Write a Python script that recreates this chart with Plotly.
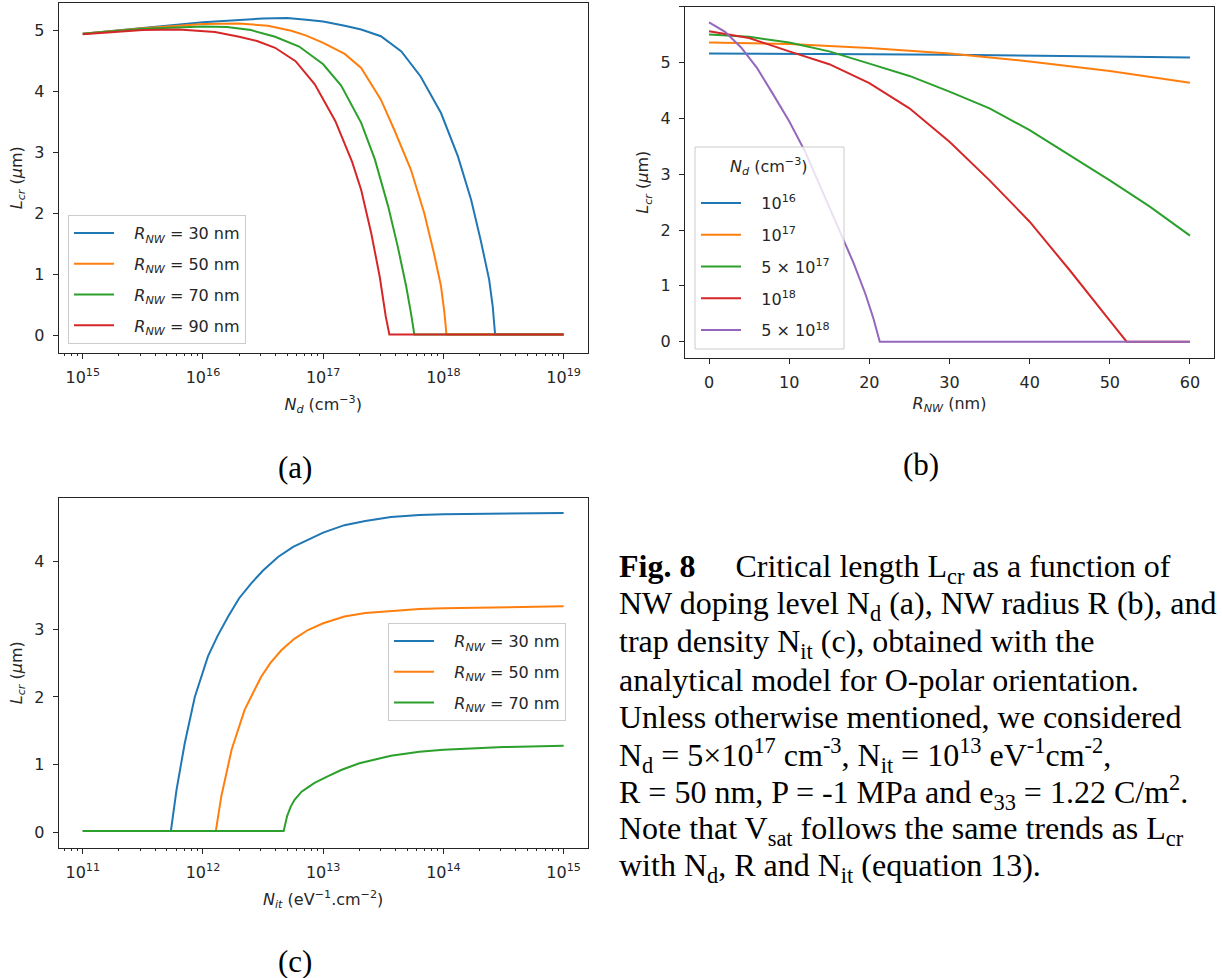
import plotly.graph_objects as go

# ---------------- Panel (a): L_cr vs N_d ----------------
nd_r30 = [1e15, 3.16e15, 1e16, 3.16e16, 5.01e16, 7.24e16, 1e17, 1.51e17, 2.07e17, 3.02e17,
          4.47e17, 6.46e17, 9.55e17, 1.32e18, 1.70e18, 2.04e18, 2.40e18, 2.57e18, 2.69e18, 1e19]
lcr_r30 = [4.95, 5.05, 5.14, 5.20, 5.21, 5.18, 5.15, 5.08, 5.02, 4.91,
           4.66, 4.25, 3.65, 2.94, 2.23, 1.57, 0.92, 0.48, 0.02, 0.02]

nd_r50 = [1e15, 3.16e15, 1e16, 2.0e16, 3.47e16, 5.43e16, 7.24e16, 1e17, 1.51e17, 2.07e17,
          3.02e17, 3.89e17, 5.37e17, 6.92e17, 8.32e17, 9.55e17, 1.02e18, 1.06e18, 1e19]
lcr_r50 = [4.95, 5.04, 5.11, 5.12, 5.08, 5.00, 4.92, 4.80, 4.62, 4.39,
           3.87, 3.38, 2.72, 2.01, 1.36, 0.81, 0.37, 0.02, 0.02]

nd_r70 = [1e15, 3.16e15, 1e16, 1.58e16, 2.51e16, 3.98e16, 6.31e16, 1e17, 1.41e17, 2.07e17,
          2.69e17, 3.47e17, 4.17e17, 4.90e17, 5.37e17, 5.73e17, 1e19]
lcr_r70 = [4.95, 5.03, 5.07, 5.06, 5.01, 4.90, 4.74, 4.45, 4.10, 3.49,
           2.89, 2.12, 1.46, 0.81, 0.37, 0.02, 0.02]

nd_r90 = [1e15, 3.16e15, 6.31e15, 1.26e16, 2.0e16, 2.82e16, 3.98e16, 5.89e16, 8.51e16, 1.26e17,
          1.74e17, 2.07e17, 2.51e17, 2.95e17, 3.31e17, 3.55e17, 1e19]
lcr_r90 = [4.94, 5.01, 5.02, 4.98, 4.90, 4.83, 4.72, 4.50, 4.12, 3.52,
           2.85, 2.39, 1.68, 0.97, 0.32, 0.02, 0.02]

labels_a = ["<i>R<sub>NW</sub></i> = 30 nm", "<i>R<sub>NW</sub></i> = 50 nm",
            "<i>R<sub>NW</sub></i> = 70 nm", "<i>R<sub>NW</sub></i> = 90 nm"]
ticks_a = [1e15, 1e16, 1e17, 1e18, 1e19]
ticktext_a = ["10<sup>15</sup>", "10<sup>16</sup>", "10<sup>17</sup>", "10<sup>18</sup>", "10<sup>19</sup>"]

# ---------------- Panel (b): L_cr vs R_NW ----------------
r_1e16 = [0, 10, 20, 30, 40, 50, 60]
lcr_1e16 = [5.16, 5.16, 5.15, 5.14, 5.13, 5.11, 5.09]

r_1e17 = [0, 10, 20, 30, 40, 50, 60]
lcr_1e17 = [5.36, 5.33, 5.26, 5.16, 5.02, 4.85, 4.64]

r_5e17 = [0, 5, 10, 15, 20, 25, 30, 35, 40, 45, 50, 55, 60]
lcr_5e17 = [5.50, 5.46, 5.36, 5.20, 4.98, 4.76, 4.48, 4.18, 3.79, 3.34, 2.89, 2.42, 1.90]

r_1e18 = [0, 5, 10, 15, 20, 25, 30, 35, 40, 45, 50, 52.1, 60]
lcr_1e18 = [5.56, 5.44, 5.20, 4.97, 4.63, 4.18, 3.58, 2.89, 2.15, 1.28, 0.38, 0.0, 0.0]

r_5e18 = [0, 2, 4, 6, 8, 10, 12, 14, 16, 18, 19.5, 20.5, 21.3, 60]
lcr_5e18 = [5.72, 5.55, 5.27, 4.90, 4.43, 3.95, 3.40, 2.75, 2.10, 1.42, 0.86, 0.42, 0.0, 0.0]

labels_b = ["10<sup>16</sup>", "10<sup>17</sup>", "5 × 10<sup>17</sup>",
            "10<sup>18</sup>", "5 × 10<sup>18</sup>"]
legend_title_b = "<i>N<sub>d</sub></i> (cm<sup>−3</sup>)"

# ---------------- Panel (c): L_cr vs N_it ----------------
nit_r30 = [1e11, 5.41e11, 6.03e11, 7.06e11, 8.55e11, 1.10e12, 1.32e12, 1.62e12, 2.0e12, 2.52e12,
           3.16e12, 4.21e12, 5.62e12, 7.94e12, 1e13, 1.50e13, 2.24e13, 3.66e13, 6.31e13,
           1e14, 3.16e14, 1e15]
lcr_c_r30 = [0.02, 0.02, 0.63, 1.32, 2.00, 2.60, 2.90, 3.19, 3.46, 3.68,
             3.87, 4.07, 4.22, 4.35, 4.43, 4.54, 4.60, 4.66, 4.69,
             4.70, 4.715, 4.72]

nit_r50 = [1e11, 1.28e12, 1.42e12, 1.73e12, 2.22e12, 3.05e12, 3.63e12, 4.48e12, 5.75e12,
           7.46e12, 1e13, 1.50e13, 2.24e13, 3.66e13, 6.31e13, 1e14, 3.16e14, 1e15]
lcr_c_r50 = [0.02, 0.02, 0.53, 1.22, 1.81, 2.30, 2.50, 2.69, 2.86,
             2.99, 3.09, 3.19, 3.24, 3.27, 3.30, 3.31, 3.33, 3.34]

nit_r70 = [1e11, 4.69e12, 5.01e12, 5.37e12, 5.78e12, 6.61e12, 7.41e12, 8.47e12, 1.10e13,
           1.41e13, 2.0e13, 3.66e13, 6.31e13, 1e14, 3.16e14, 1e15]
lcr_c_r70 = [0.02, 0.02, 0.24, 0.38, 0.48, 0.60, 0.66, 0.73, 0.83,
             0.92, 1.02, 1.13, 1.19, 1.22, 1.26, 1.28]

labels_c = ["<i>R<sub>NW</sub></i> = 30 nm", "<i>R<sub>NW</sub></i> = 50 nm",
            "<i>R<sub>NW</sub></i> = 70 nm"]
ticks_c = [1e11, 1e12, 1e13, 1e14, 1e15]
ticktext_c = ["10<sup>11</sup>", "10<sup>12</sup>", "10<sup>13</sup>", "10<sup>14</sup>", "10<sup>15</sup>"]

# ---------------- Caption ----------------
caption_lines = [
    "<b>Fig. 8</b>\u00a0\u00a0\u00a0\u00a0\u00a0Critical length L<sub>cr</sub> as a function of",
    "NW doping level N<sub>d</sub> (a), NW radius R (b), and",
    "trap density N<sub>it</sub> (c), obtained with the",
    "analytical model for O-polar orientation.",
    "Unless otherwise mentioned, we considered",
    "N<sub>d</sub> = 5×10<sup>17</sup> cm<sup>-3</sup>, N<sub>it</sub> = 10<sup>13</sup> eV<sup>-1</sup>cm<sup>-2</sup>,",
    "R = 50 nm, P = -1 MPa and e<sub>33</sub> = 1.22 C/m<sup>2</sup>.",
    "Note that V<sub>sat</sub> follows the same trends as L<sub>cr</sub>",
    "with N<sub>d</sub>, R and N<sub>it</sub> (equation 13).",
]
panel_labels = ["(a)", "(b)", "(c)"]

COLORS = ["#1f77b4", "#ff7f0e", "#2ca02c", "#d62728", "#9467bd"]
W, H = 1222, 978
SANS = "DejaVu Sans"
SERIF = "Liberation Serif"
INK = "#262626"
PAD = "\u00a0\u00a0\u00a0"

fig = go.Figure()


def add(xs, ys, name, color, xa, ya, legend, group):
    fig.add_trace(go.Scatter(
        x=xs, y=ys, mode="lines", name=PAD + name,
        line=dict(color=color, width=2),
        xaxis=xa, yaxis=ya, legend=legend, legendgroup=group,
        hoverinfo="skip"))


for i, (xs, ys) in enumerate([(nd_r30, lcr_r30), (nd_r50, lcr_r50),
                              (nd_r70, lcr_r70), (nd_r90, lcr_r90)]):
    add(xs, ys, labels_a[i], COLORS[i], "x", "y", "legend", f"a{i}")

for i, (xs, ys) in enumerate([(r_1e16, lcr_1e16), (r_1e17, lcr_1e17), (r_5e17, lcr_5e17),
                              (r_1e18, lcr_1e18), (r_5e18, lcr_5e18)]):
    add(xs, ys, labels_b[i], COLORS[i], "x2", "y2", "legend2", f"b{i}")

for i, (xs, ys) in enumerate([(nit_r30, lcr_c_r30), (nit_r50, lcr_c_r50),
                              (nit_r70, lcr_c_r70)]):
    add(xs, ys, labels_c[i], COLORS[i], "x3", "y3", "legend3", f"c{i}")


def px_x(p):
    return p / W


def px_y(p):
    return 1 - p / H


axis_common = dict(
    showline=True, mirror=True, linecolor=INK, linewidth=1.2,
    ticks="outside", ticklen=5, tickwidth=1.2, tickcolor=INK,
    showgrid=False, zeroline=False, automargin=False, ticklabelstandoff=5,
    tickfont=dict(family=SANS, size=16, color=INK),
    title_font=dict(family=SANS, size=16, color=INK),
)


def minor_log(e0, e1):
    return [k * 10.0 ** e for e in range(e0, e1) for k in range(2, 10)]


minor_common = dict(ticks="outside", ticklen=2.5, tickcolor=INK, tickwidth=1, showgrid=False)
ytitle = "<i>L<sub>cr</sub></i> (<i>μ</i>m)"

fig.update_layout(
    width=W, height=H, margin=dict(l=0, r=0, t=0, b=0, autoexpand=False),
    paper_bgcolor="white", plot_bgcolor="white", showlegend=True,
    xaxis=dict(axis_common, type="log", domain=[px_x(58.7), px_x(587.7)],
               range=[14.8, 19.2], tickmode="array", tickvals=ticks_a, ticktext=ticktext_a,
               minor=dict(minor_common, tickmode="array", tickvals=minor_log(14, 19)),
               title=dict(text="<i>N<sub>d</sub></i> (cm<sup>−3</sup>)", standoff=12),
               anchor="y"),
    yaxis=dict(axis_common, domain=[px_y(352.7), px_y(2.7)], range=[-0.279, 5.459],
               dtick=1, tick0=0, title=dict(text=ytitle, standoff=7), anchor="x"),
    xaxis2=dict(axis_common, domain=[px_x(685), px_x(1214)], range=[-3, 63], dtick=10, tick0=0,
                title=dict(text="<i>R<sub>NW</sub></i> (nm)", standoff=6), anchor="y2"),
    yaxis2=dict(axis_common, domain=[px_y(357.7), px_y(6.7)], range=[-0.286, 6.0],
                dtick=1, tick0=0, title=dict(text=ytitle, standoff=7), anchor="x2"),
    xaxis3=dict(axis_common, type="log", domain=[px_x(58.7), px_x(587.7)],
                range=[10.8, 15.2], tickmode="array", tickvals=ticks_c, ticktext=ticktext_c,
                minor=dict(minor_common, tickmode="array", tickvals=minor_log(10, 15)),
                title=dict(text="<i>N<sub>it</sub></i> (eV<sup>−1</sup>.cm<sup>−2</sup>)", standoff=12),
                anchor="y3"),
    yaxis3=dict(axis_common, domain=[px_y(847.7), px_y(497.7)], range=[-0.228, 4.946],
                dtick=1, tick0=0, title=dict(text=ytitle, standoff=7), anchor="x3"),
)

legend_common = dict(
    xanchor="left", yanchor="top", bordercolor="#cccccc", borderwidth=1,
    bgcolor="rgba(255,255,255,0.85)", font=dict(family=SANS, size=16, color=INK),
    tracegroupgap=7, itemwidth=40,
)
fig.update_layout(
    legend=dict(legend_common, x=px_x(68), y=px_y(215)),
    legend2=dict(legend_common, x=px_x(696), y=px_y(186), borderwidth=0,
                 bgcolor="rgba(0,0,0,0)", tracegroupgap=8),
    legend3=dict(legend_common, x=px_x(388), y=px_y(623)),
)

# Legend (b) frame and title (matplotlib-style titled legend)
fig.add_shape(type="rect", xref="paper", yref="paper",
              x0=px_x(695), x1=px_x(844), y0=px_y(349), y1=px_y(147),
              line=dict(color="#cccccc", width=1), fillcolor="rgba(255,255,255,0.8)",
              layer="above")
fig.add_annotation(text=legend_title_b, x=px_x(769.5), y=px_y(167), xref="paper", yref="paper",
                   xanchor="center", yanchor="middle", showarrow=False,
                   font=dict(family=SANS, size=16, color=INK))

# Panel labels
for lab, (cx, cy) in zip(panel_labels, [(295, 467), (921, 464), (295, 961)]):
    fig.add_annotation(text=lab, x=px_x(cx), y=px_y(cy), xref="paper", yref="paper",
                       xanchor="center", yanchor="middle", showarrow=False,
                       font=dict(family=SERIF, size=31, color="black"))

# Caption
line_y = [568, 605, 643, 680, 717, 755, 792, 830, 867]
for txt, cy in zip(caption_lines, line_y):
    fig.add_annotation(text=txt, x=px_x(617), y=px_y(cy), xref="paper", yref="paper",
                       xanchor="left", yanchor="middle", showarrow=False, align="left",
                       font=dict(family=SERIF, size=32, color="black"))

fig.write_html("out.html", config={"displayModeBar": False},
               post_script="document.body.style.margin='0px';document.body.style.overflow='hidden';")
